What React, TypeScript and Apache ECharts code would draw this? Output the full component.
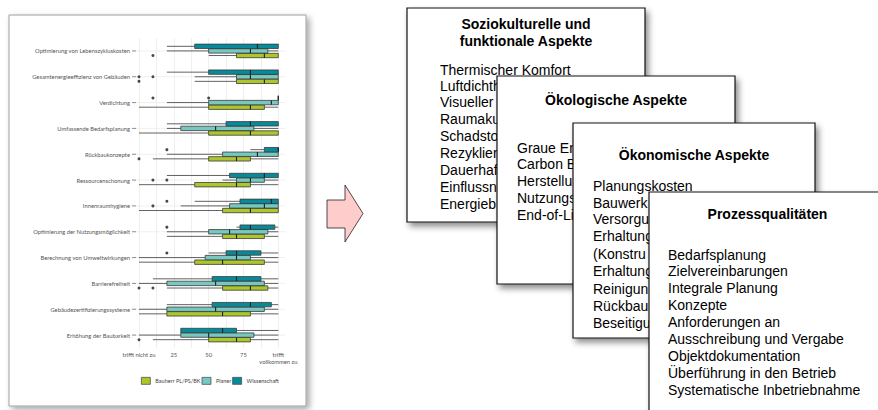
import React, { useEffect, useRef } from 'react';
import * as echarts from 'echarts';

// ---------- data ----------
const categories = [
  'Optimierung von Lebenszykluskosten',
  'Gesamtenergieeffizienz von Gebäuden',
  'Verdichtung',
  'Umfassende Bedarfsplanung',
  'Rückbaukonzepte',
  'Ressourcenschonung',
  'Innenraumhygiene',
  'Optimierung der Nutzungsmöglichkeit',
  'Berechnung von Umweltwirkungen',
  'Barrierefreiheit',
  'Gebäudezertifizierungssysteme',
  'Erhöhung der Baubarkeit',
];

// [lower whisker, Q1, median, Q3, upper whisker]
const wissenschaft = [
  [20, 40, 85, 100, 100],
  [20, 50, 80, 100, 100],
  [100, 100, 100, 100, 100],
  [20, 62.5, 80, 100, 100],
  [80, 90, 100, 100, 100],
  [20, 65, 90, 100, 100],
  [40, 72.5, 95, 100, 100],
  [70, 72.5, 80, 97.5, 100],
  [50, 62.5, 70, 87.5, 100],
  [10, 52.5, 70, 87.5, 100],
  [20, 52.5, 80, 95, 100],
  [30, 30, 60, 70, 100],
];
const planer = [
  [20, 50, 80, 92.5, 100],
  [40, 70, 80, 100, 100],
  [20, 50, 95, 100, 100],
  [20, 30, 55, 82.5, 100],
  [20, 60, 85, 100, 100],
  [60, 70, 80, 90, 100],
  [30, 65, 90, 100, 100],
  [20, 50, 65, 92.5, 100],
  [0, 47.5, 70, 80, 100],
  [0, 20, 55, 90, 100],
  [0, 20, 55, 90, 100],
  [0, 30, 50, 82.5, 100],
];
const bauherr = [
  [50, 70, 90, 100, 100],
  [40, 70, 90, 100, 100],
  [0, 50, 80, 90, 100],
  [0, 50, 80, 100, 100],
  [10, 50, 70, 80, 100],
  [0, 40, 70, 80, 100],
  [0, 60, 80, 100, 100],
  [20, 60, 70, 90, 100],
  [0, 40, 60, 90, 100],
  [20, 60, 80, 92.5, 100],
  [0, 20, 60, 80, 100],
  [10, 50, 70, 80, 100],
];
// outliers: [value, category index]
const outliersWissenschaft = [[10, 2], [50, 2], [20, 4], [20, 6], [20, 7], [20, 8]];
const outliersPlaner = [[0, 1], [10, 1], [10, 5], [20, 5], [10, 6]];
const outliersBauherr = [[10, 0], [0, 1], [0, 4], [0, 9], [10, 9], [0, 11]];

const seriesNames = ['Bauherr PL/PS/BK', 'Planer', 'Wissenschaft'];
const xTickValues = [0, 25, 50, 75, 100];
const xTickLabels = ['trifft nicht zu', '25', '50', '75', 'trifft\nvollkommen zu'];

// card texts (as far as they are visible behind the overlapping cards)
const card1Title = ['Soziokulturelle und', 'funktionale Aspekte'];
const card1Lines = ['Thermischer Komfort', 'Luftdichth', 'Visueller', 'Raumaku', 'Schadsto', 'Rezyklier', 'Dauerhaf', 'Einflussn', 'Energieb'];
const card2Title = ['Ökologische Aspekte'];
const card2Lines = ['Graue En', 'Carbon B', 'Herstellu', 'Nutzungs', 'End-of-Li'];
const card3Title = ['Ökonomische Aspekte'];
const card3Lines = ['Planungskosten', 'Bauwerk', 'Versorgu', 'Erhaltung', '(Konstru', 'Erhaltung', 'Reinigun', 'Rückbau', 'Beseitigu'];
const card4Title = ['Prozessqualitäten'];
const card4Lines = ['Bedarfsplanung', 'Zielvereinbarungen', 'Integrale Planung', 'Konzepte', 'Anforderungen an', 'Ausschreibung und Vergabe', 'Objektdokumentation', 'Überführung in den Betrieb', 'Systematische Inbetriebnahme'];

// ---------- styles ----------
const COLORS = { b: '#adc62c', p: '#76c8c0', w: '#078b9b' };
const DODGE = 4.6;
const BOX_H = 4.4;
const LINE = '#3a3a3a';
const FONT = 'Lato';

function boxRender(offset: number, color: string) {
  return (params: any, api: any) => {
    const cat = api.value(0);
    const y = api.coord([0, cat])[1] + offset;
    const x = (v: number) => api.coord([v, cat])[0];
    const xLo = x(api.value(1));
    const xQ1 = x(api.value(2));
    const xMed = x(api.value(3));
    const xQ3 = x(api.value(4));
    const xHi = x(api.value(5));
    const h = BOX_H;
    return {
      type: 'group',
      children: [
        { type: 'line', shape: { x1: xLo, y1: y, x2: xQ1, y2: y }, style: { stroke: LINE, lineWidth: 0.8 } },
        { type: 'line', shape: { x1: xQ3, y1: y, x2: xHi, y2: y }, style: { stroke: LINE, lineWidth: 0.8 } },
        { type: 'rect', shape: { x: xQ1, y: y - h / 2, width: xQ3 - xQ1, height: h }, style: { fill: color, stroke: LINE, lineWidth: 0.8 } },
        { type: 'line', shape: { x1: xMed, y1: y - h / 2, x2: xMed, y2: y + h / 2 }, style: { stroke: '#1e1e1e', lineWidth: 1.1 } },
      ],
    };
  };
}

function gridRender(params: any, api: any) {
  const cat = api.value(1);
  const p0 = api.coord([-5, cat]);
  const p1 = api.coord([105, cat]);
  return {
    type: 'group',
    children: [
      { type: 'line', shape: { x1: p0[0], y1: p0[1], x2: p1[0], y2: p1[1] }, style: { stroke: '#ebebeb', lineWidth: 0.8 } },
      { type: 'line', shape: { x1: p0[0], y1: p0[1], x2: p0[0] + 4, y2: p0[1] }, style: { stroke: '#666', lineWidth: 0.7 } },
    ],
  };
}

function makeCard(
  x: number, y: number, w: number, h: number,
  title: string[], titleX: number, titleYs: number[],
  lines: string[], bodyX: number, bodyYs: number[], z: number
) {
  const els: any[] = [];
  els.push({
    type: 'rect', z, shape: { x, y, width: w, height: h },
    style: { fill: '#fff', stroke: '#111', lineWidth: 1.2, shadowBlur: 6, shadowOffsetX: 3, shadowOffsetY: 4, shadowColor: 'rgba(0,0,0,0.45)' },
  });
  title.forEach((t, i) => {
    els.push({
      type: 'text', z: z + 1,
      style: { text: t, x: titleX, y: titleYs[i], font: 'bold 14px "Liberation Sans", Arial, sans-serif', fill: '#000', textAlign: 'center', textVerticalAlign: 'middle' },
    });
  });
  lines.forEach((t, i) => {
    els.push({
      type: 'text', z: z + 1,
      style: { text: t, x: bodyX, y: bodyYs[i], font: '14px "Liberation Sans", Arial, sans-serif', fill: '#000', textAlign: 'left', textVerticalAlign: 'middle' },
    });
  });
  return els;
}

export default function App() {
  const ref = useRef<HTMLDivElement>(null);
  useEffect(() => {
    if (!ref.current) return;
    const chart = echarts.init(ref.current, undefined, { renderer: 'svg' });

    const graphics: any[] = [
      {
        type: 'rect', z: -10, silent: true,
        shape: { x: 9, y: 15, width: 297, height: 391 },
        style: { fill: '#fff', stroke: '#a0a0a0', lineWidth: 1, shadowBlur: 6, shadowOffsetX: 3, shadowOffsetY: 3, shadowColor: 'rgba(0,0,0,0.35)' },
      },
      {
        type: 'polygon', z: 5,
        shape: { points: [[327, 200], [345, 200], [345, 185], [363, 213.5], [345, 242], [345, 228], [327, 228]] },
        style: { fill: '#ffcccc', stroke: '#222', lineWidth: 0.8 },
      },
      ...makeCard(407, 8, 238, 214, card1Title, 526, [24, 41], card1Lines, 440, [70, 86, 102, 119, 136, 153, 170, 187, 204], 10),
      ...makeCard(497, 76, 238, 208, card2Title, 616, [100], card2Lines, 517, [148, 164, 181, 198, 215], 12),
      ...makeCard(573, 123, 242, 215, card3Title, 694, [155], card3Lines, 593, [185.5, 202.5, 219, 236, 254, 271, 289, 306, 323], 14),
      ...makeCard(649, 192, 240, 232, card4Title, 767.5, [214], card4Lines, 668, [254.5, 271, 288, 305, 322, 339, 355.5, 373, 390], 16),
    ];

    const boxSeries = [
      { name: seriesNames[0], data: bauherr, off: DODGE, color: COLORS.b },
      { name: seriesNames[1], data: planer, off: 0, color: COLORS.p },
      { name: seriesNames[2], data: wissenschaft, off: -DODGE, color: COLORS.w },
    ].map((s) => ({
      type: 'custom',
      name: s.name,
      renderItem: boxRender(s.off, s.color),
      data: s.data.map((d, i) => [i, ...d]),
      encode: { x: [1, 2, 3, 4, 5], y: 0 },
      itemStyle: { color: s.color, borderColor: LINE },
      clip: false,
      z: 3,
    }));

    const outlierSeries = [
      { name: 'Ausreißer Bauherr', data: outliersBauherr, off: DODGE },
      { name: 'Ausreißer Planer', data: outliersPlaner, off: 0 },
      { name: 'Ausreißer Wissenschaft', data: outliersWissenschaft, off: -DODGE },
    ].map((s) => ({
      type: 'scatter',
      name: s.name,
      data: s.data,
      symbol: 'circle',
      symbolSize: 3,
      symbolOffset: [0, s.off],
      itemStyle: { color: '#1a1a1a' },
      z: 4,
    }));

    chart.setOption({
      animation: false,
      backgroundColor: '#ffffff',
      graphic: { elements: graphics },
      grid: { left: 139, top: 38, width: 139.3, height: 310, containLabel: false, outerBoundsMode: 'none' },
      legend: {
        data: seriesNames,
        left: 141,
        top: 377,
        padding: 0,
        icon: 'rect',
        itemWidth: 9,
        itemHeight: 7,
        itemGap: 1,
        selectedMode: false,
        itemStyle: { borderColor: '#444', borderWidth: 0.7 },
        textStyle: { fontSize: 5.5, color: '#444', fontFamily: FONT },
      },
      xAxis: {
        type: 'value',
        min: 0,
        max: 100,
        interval: 12.5,
        axisLine: { show: false },
        axisTick: { show: false },
        splitLine: { show: true, lineStyle: { color: '#ebebeb', width: 0.8 } },
        axisLabel: {
          fontSize: 5.8,
          color: '#555',
          fontFamily: FONT,
          lineHeight: 7,
          margin: 3,
          formatter: (v: number) => {
            const i = xTickValues.indexOf(v);
            return i >= 0 ? xTickLabels[i] : '';
          },
        },
      },
      yAxis: {
        type: 'category',
        data: categories,
        inverse: true,
        axisLine: { show: false },
        axisTick: { show: false },
        splitLine: { show: false },
        axisLabel: { fontSize: 5.8, color: '#555', fontFamily: FONT, margin: 9, interval: 0 },
      },
      series: [
        {
          type: 'custom',
          name: 'Gitter',
          renderItem: gridRender,
          data: categories.map((_, i) => [-5, i]),
          encode: { x: 0, y: 1 },
          silent: true,
          clip: false,
          z: 1,
        },
        ...boxSeries,
        ...outlierSeries,
      ],
    });
    return () => chart.dispose();
  }, []);
  return <div ref={ref} style={{ position: 'absolute', left: 0, top: 0, width: 878, height: 410 }} />;
}
